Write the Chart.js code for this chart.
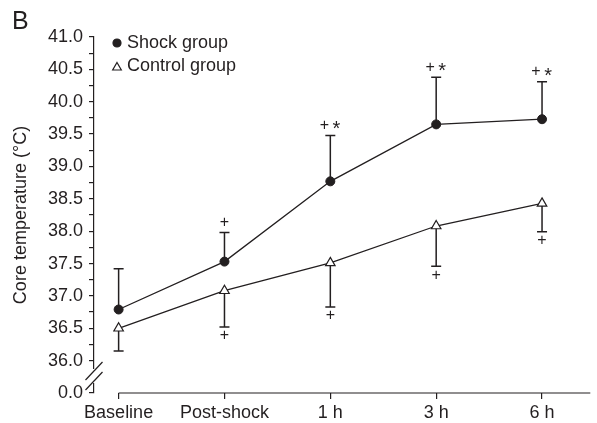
<!DOCTYPE html>
<html>
<head>
<meta charset="utf-8">
<script src="https://cdn.jsdelivr.net/npm/chart.js@4.4.0/dist/chart.umd.min.js"></script>
<style>
    html, body { margin: 0; padding: 0; background: #fff; }
    #wrap { width: 597px; height: 423px; }
</style>
</head>
<body>
<div id="wrap"><canvas id="tempChart" width="597" height="423"></canvas></div>
<script>
// Data
const categories = ['Baseline', 'Post-shock', '1 h', '3 h', '6 h'];

const shockMean  = [36.79, 37.53, 38.77, 39.65, 39.73];
const shockUpper = [37.42, 37.98, 39.48, 40.38, 40.31];
const shockMarks = ['', '+', '+*', '+*', '+*'];

const controlMean  = [36.50, 37.08, 37.51, 38.08, 38.43];
const controlLower = [36.15, 36.52, 36.83, 37.46, 37.99];
const controlMarks = ['', '+', '+', '+', '+'];

// y axis: 35.5 stands in for the broken-off 0.0
const yTickValues = [35.5, 36.0, 36.25, 36.5, 36.75, 37.0, 37.25, 37.5, 37.75, 38.0, 38.25,
                     38.5, 38.75, 39.0, 39.25, 39.5, 39.75, 40.0, 40.25, 40.5, 40.75, 41.0];
const yTickLabels = ['0.0', '36.0', '', '36.5', '', '37.0', '', '37.5', '', '38.0', '',
                     '38.5', '', '39.0', '', '39.5', '', '40.0', '', '40.5', '', '41.0'];
const yBreak = [35.685, 35.84];

const ink = '#231f20';
const fontFamily = "'Liberation Sans', Arial, Helvetica, sans-serif";

// Error bars + significance marks
const errorBars = {
    id: 'errorBars',
    beforeDatasetsDraw(chart) {
        const { ctx, scales: { x, y } } = chart;
        ctx.save();
        ctx.strokeStyle = ink;
        ctx.fillStyle = ink;
        ctx.lineWidth = 1.5;
        ctx.textAlign = 'center';
        ctx.textBaseline = 'middle';
        chart.data.datasets.forEach(ds => {
            ds.errorEnd.forEach((e, i) => {
                const px = x.getPixelForValue(i);
                const p0 = y.getPixelForValue(ds.data[i].y);
                const p1 = y.getPixelForValue(e);
                ctx.beginPath();
                ctx.moveTo(px, p0);
                ctx.lineTo(px, p1);
                ctx.moveTo(px - 5, p1);
                ctx.lineTo(px + 5, p1);
                ctx.stroke();

                const mark = ds.marks[i];
                if (!mark) return;
                const my = ds.errorDir > 0 ? p1 - 10 : p1 + 9;
                const chars = mark.split('');
                const step = 12;
                chars.forEach((c, k) => {
                    const cx = px + (k - (chars.length - 1) / 2) * step;
                    if (c === '*') {
                        ctx.font = `20px ${fontFamily}`;
                        ctx.fillText(c, cx, my + 4.5);
                    } else {
                        ctx.font = `16px ${fontFamily}`;
                        ctx.fillText(c, cx, my);
                    }
                });
            });
        });
        ctx.restore();
    }
};

// x axis line starts at the first category, not at the y axis
const xAxisLine = {
    id: 'xAxisLine',
    afterDraw(chart) {
        const { ctx, chartArea, scales: { x } } = chart;
        ctx.save();
        ctx.strokeStyle = ink;
        ctx.lineWidth = 1.2;
        ctx.beginPath();
        ctx.moveTo(x.getPixelForValue(0), chartArea.bottom);
        ctx.lineTo(chartArea.right, chartArea.bottom);
        ctx.stroke();
        ctx.restore();
    }
};

// y axis break (//)
const yAxisBreak = {
    id: 'yAxisBreak',
    afterDraw(chart) {
        const { ctx, chartArea, scales: { y } } = chart;
        const ax = chartArea.left;
        const yLo = y.getPixelForValue(yBreak[0]);
        const yHi = y.getPixelForValue(yBreak[1]);
        ctx.save();
        ctx.fillStyle = '#fff';
        ctx.fillRect(ax - 3, yHi - 2, 6, yLo - yHi + 4);
        ctx.strokeStyle = ink;
        ctx.lineWidth = 1.2;
        [yHi, yLo].forEach(yc => {
            ctx.beginPath();
            ctx.moveTo(ax - 8.5, yc + 9);
            ctx.lineTo(ax + 8.5, yc - 9);
            ctx.stroke();
        });
        ctx.restore();
    }
};

// Legend inside the plot, top-left
const insideLegend = {
    id: 'insideLegend',
    afterDraw(chart) {
        const { ctx, chartArea } = chart;
        const rows = [
            { ds: chart.data.datasets[0], dy: 6, r: 4 },
            { ds: chart.data.datasets[1], dy: 29, r: 5 }
        ];
        ctx.save();
        ctx.font = `18px ${fontFamily}`;
        ctx.textBaseline = 'middle';
        ctx.textAlign = 'left';
        rows.forEach(({ ds, dy, r }) => {
            const cx = chartArea.left + 23;
            const cy = chartArea.top + dy;
            ctx.strokeStyle = ds.pointBorderColor;
            ctx.fillStyle = ds.pointBackgroundColor;
            ctx.lineWidth = 1.2;
            ctx.beginPath();
            if (ds.pointStyle === 'triangle') {
                const ty = cy + 1.5;
                ctx.moveTo(cx, ty - r);
                ctx.lineTo(cx + r * 0.866, ty + r / 2);
                ctx.lineTo(cx - r * 0.866, ty + r / 2);
                ctx.closePath();
            } else {
                ctx.arc(cx, cy, r, 0, Math.PI * 2);
            }
            ctx.fill();
            ctx.stroke();
            ctx.fillStyle = ink;
            ctx.fillText(ds.label, chartArea.left + 33, cy);
        });
        ctx.restore();
    }
};

new Chart(document.getElementById('tempChart'), {
    type: 'line',
    data: {
        datasets: [
            {
                label: 'Shock group',
                data: shockMean.map((v, i) => ({ x: i, y: v })),
                errorEnd: shockUpper,
                errorDir: 1,
                marks: shockMarks,
                borderColor: ink,
                borderWidth: 1.3,
                tension: 0,
                pointStyle: 'circle',
                pointRadius: 4.5,
                pointBackgroundColor: ink,
                pointBorderColor: ink,
                pointBorderWidth: 1
            },
            {
                label: 'Control group',
                data: controlMean.map((v, i) => ({ x: i, y: v })),
                errorEnd: controlLower,
                errorDir: -1,
                marks: controlMarks,
                borderColor: ink,
                borderWidth: 1.3,
                tension: 0,
                pointStyle: 'triangle',
                pointRadius: 5.5,
                pointBackgroundColor: '#fff',
                pointBorderColor: ink,
                pointBorderWidth: 1.2
            }
        ]
    },
    options: {
        responsive: false,
        animation: false,
        events: [],
        layout: { padding: { left: 12, right: 0, top: 0, bottom: 0 } },
        plugins: {
            legend: { display: false },
            tooltip: { enabled: false },
            title: {
                display: true,
                text: 'B',
                align: 'start',
                color: ink,
                font: { family: fontFamily, size: 25, weight: 'normal', lineHeight: 1 },
                padding: { top: 10, bottom: 2 }
            }
        },
        scales: {
            x: {
                type: 'linear',
                min: -0.2326,
                max: 4.456,
                afterBuildTicks: s => { s.ticks = categories.map((c, i) => ({ value: i })); },
                afterFit: s => { s.height = 30; },
                border: { display: false },
                grid: { display: true, drawOnChartArea: false, drawTicks: true, tickLength: 6, color: ink, lineWidth: 1.2 },
                ticks: {
                    autoSkip: false,
                    maxRotation: 0,
                    padding: 3,
                    color: ink,
                    font: { family: fontFamily, size: 18 },
                    callback: v => categories[v] ?? ''
                }
            },
            y: {
                min: 35.5,
                max: 41,
                afterBuildTicks: s => { s.ticks = yTickValues.map(v => ({ value: v })); },
                afterFit: s => { s.width = 82; },
                border: { display: true, color: ink, width: 1.2 },
                grid: { drawOnChartArea: false, drawTicks: true, tickLength: 5, color: ink, lineWidth: 1.2 },
                ticks: {
                    autoSkip: false,
                    padding: 6,
                    color: ink,
                    font: { family: fontFamily, size: 18 },
                    callback: (v, i) => yTickLabels[i]
                },
                title: {
                    display: true,
                    text: 'Core temperature (°C)',
                    color: ink,
                    font: { family: fontFamily, size: 18, lineHeight: 1 },
                    padding: { top: 0, bottom: 0 }
                }
            }
        }
    },
    plugins: [errorBars, xAxisLine, yAxisBreak, insideLegend]
});
</script>
</body>
</html>
